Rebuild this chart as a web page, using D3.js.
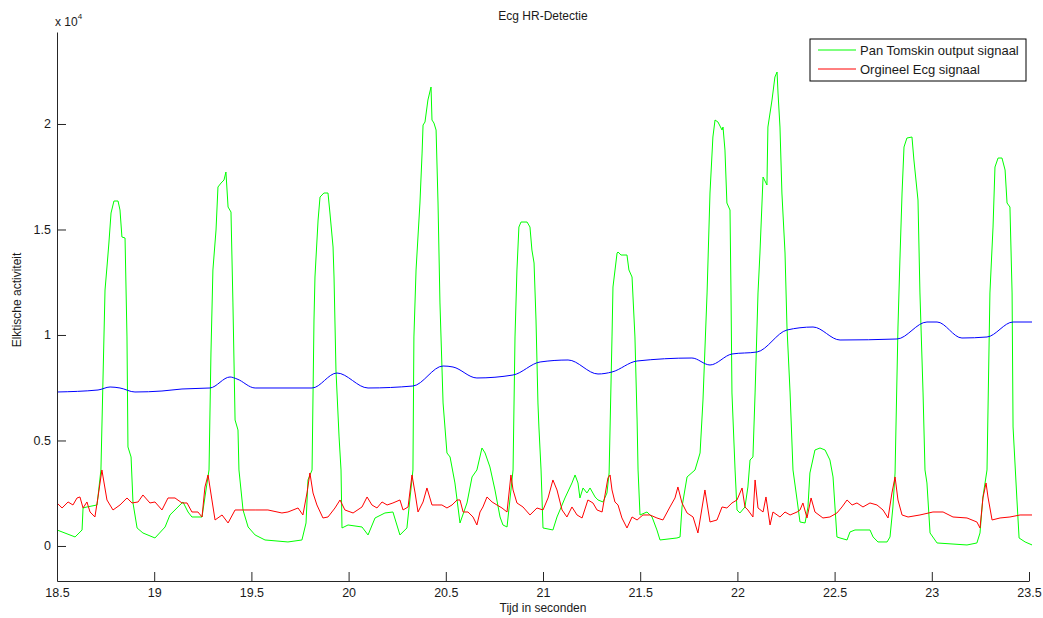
<!DOCTYPE html>
<html>
<head>
<meta charset="utf-8">
<script src="https://cdn.jsdelivr.net/npm/d3@7"></script>
<style>
  html, body { margin: 0; padding: 0; background: #fff; }
  svg { display: block; font-family: "Liberation Sans", Arial, sans-serif; }
</style>
</head>
<body>
<svg id="chart" width="1043" height="618"></svg>
<script>
// ---- data (time in seconds, amplitude in raw units) ----
const xTicks = [18.5, 19, 19.5, 20, 20.5, 21, 21.5, 22, 22.5, 23, 23.5];
const xTickLabels = ["18.5", "19", "19.5", "20", "20.5", "21", "21.5", "22", "22.5", "23", "23.5"];
const yTicks = [0, 5000, 10000, 15000, 20000];
const yTickLabels = ["0", "0.5", "1", "1.5", "2"];

const seriesNames = ["Pan Tomskin output signaal", "Orgineel Ecg signaal"];

const greenT = [18.500,18.593,18.629,18.634,18.654,18.706,18.726,18.747,18.757,18.767,18.778,18.793,18.814,18.824,18.834,18.850,18.860,18.865,18.881,18.891,18.912,18.942,19.004,19.056,19.081,19.148,19.174,19.194,19.246,19.261,19.282,19.292,19.302,19.318,19.328,19.344,19.359,19.369,19.380,19.395,19.405,19.416,19.431,19.436,19.457,19.483,19.519,19.570,19.688,19.760,19.781,19.791,19.812,19.822,19.827,19.843,19.853,19.873,19.894,19.904,19.920,19.925,19.935,19.951,19.961,19.966,19.997,20.069,20.100,20.136,20.187,20.228,20.264,20.300,20.331,20.336,20.347,20.367,20.378,20.383,20.393,20.408,20.424,20.429,20.439,20.450,20.460,20.470,20.486,20.506,20.522,20.547,20.573,20.609,20.635,20.660,20.686,20.702,20.727,20.753,20.779,20.794,20.815,20.846,20.856,20.866,20.876,20.887,20.918,20.933,20.943,20.954,20.964,20.974,20.979,20.990,21.000,21.051,21.072,21.098,21.113,21.149,21.165,21.180,21.190,21.206,21.226,21.242,21.268,21.283,21.309,21.329,21.340,21.355,21.360,21.381,21.386,21.401,21.432,21.442,21.458,21.473,21.484,21.489,21.499,21.535,21.561,21.586,21.602,21.689,21.705,21.715,21.741,21.782,21.808,21.823,21.844,21.859,21.874,21.885,21.900,21.921,21.926,21.936,21.946,21.962,21.967,21.972,21.988,21.998,22.013,22.039,22.054,22.065,22.080,22.091,22.106,22.116,22.132,22.152,22.157,22.178,22.193,22.204,22.209,22.219,22.229,22.245,22.255,22.271,22.286,22.307,22.322,22.348,22.363,22.373,22.399,22.425,22.451,22.476,22.492,22.512,22.528,22.564,22.579,22.605,22.682,22.698,22.723,22.770,22.785,22.800,22.811,22.826,22.836,22.847,22.857,22.872,22.898,22.908,22.929,22.939,22.955,22.965,22.975,22.991,23.027,23.181,23.232,23.248,23.263,23.284,23.299,23.315,23.325,23.341,23.361,23.377,23.387,23.402,23.413,23.418,23.438,23.449,23.480,23.516];
const greenV = [758,427,758,1801,1848,1943,3602,12132,13222,14359,15781,16350,16350,15923,14644,14596,9905,4692,4218,2038,853,616,379,900,1469,2085,1611,1374,1374,2322,3602,9146,13080,14975,17013,17203,17345,17724,16065,15828,11516,5971,5497,3602,1706,900,521,284,190,284,1090,3128,3602,10710,12748,15449,16539,16729,16729,15781,14170,12748,8341,5166,3602,853,995,900,521,1327,1564,1611,521,853,3602,9905,13080,16255,18624,19951,20093,21136,21752,20188,20046,19714,16255,11516,6777,4407,4218,2986,1090,2038,3270,3602,4644,4407,3744,2654,1374,995,900,3602,9905,13080,15117,15354,15354,15117,14027,13411,10710,6777,5639,3602,853,758,1374,1943,2275,2986,3365,2986,2275,2749,2512,2749,2322,2180,2085,2512,3459,9905,12274,13885,13933,13790,13790,13080,12748,9905,5971,3602,1469,1611,1374,758,284,379,427,1848,3270,3602,4407,6919,11990,16729,19383,20188,20093,19714,19856,18766,16255,15923,11990,7251,3602,1706,1564,1848,2796,4076,4218,7251,11990,13885,17487,17108,19856,21136,22226,22463,21468,19856,16729,13885,10378,7251,3602,2180,1137,1090,1848,3459,4549,4644,4549,4076,3270,427,379,284,663,758,758,427,190,190,427,1848,3459,10378,13554,16729,18909,19335,19383,18293,16397,11990,7251,3602,2986,616,142,47,142,616,2322,3602,11990,15117,17961,18387,18387,17819,16255,16065,11990,5639,2180,379,190,47];

const redT = [18.500,18.526,18.557,18.582,18.603,18.618,18.634,18.654,18.670,18.695,18.711,18.731,18.737,18.757,18.788,18.824,18.860,18.886,18.917,18.942,18.978,19.004,19.040,19.071,19.107,19.143,19.169,19.194,19.225,19.246,19.261,19.277,19.297,19.313,19.349,19.380,19.416,19.452,19.519,19.585,19.657,19.688,19.740,19.765,19.786,19.801,19.817,19.837,19.868,19.894,19.930,19.956,19.981,20.023,20.069,20.095,20.120,20.146,20.172,20.198,20.228,20.264,20.280,20.306,20.326,20.342,20.357,20.383,20.403,20.429,20.455,20.480,20.506,20.532,20.558,20.573,20.589,20.614,20.640,20.660,20.676,20.691,20.712,20.738,20.763,20.789,20.815,20.835,20.846,20.866,20.897,20.933,20.969,21.000,21.026,21.051,21.072,21.098,21.123,21.149,21.175,21.201,21.231,21.257,21.278,21.304,21.319,21.334,21.345,21.355,21.370,21.386,21.406,21.432,21.458,21.484,21.514,21.550,21.586,21.617,21.653,21.679,21.694,21.715,21.741,21.772,21.797,21.833,21.859,21.895,21.921,21.946,21.972,21.998,22.024,22.039,22.054,22.080,22.091,22.106,22.132,22.147,22.168,22.183,22.219,22.245,22.271,22.307,22.322,22.337,22.358,22.379,22.399,22.440,22.476,22.512,22.538,22.564,22.590,22.615,22.646,22.682,22.718,22.749,22.775,22.795,22.811,22.826,22.847,22.878,22.939,23.006,23.058,23.109,23.181,23.232,23.248,23.263,23.279,23.289,23.310,23.351,23.402,23.454,23.516];
const redV = [2038,1801,2085,1943,2275,2322,1801,2085,1611,1374,2322,3602,3270,2180,1706,1943,2275,2038,2085,2417,2038,2085,1706,2275,2275,2038,2038,1611,1611,1374,2796,3365,2180,1232,1469,1090,1706,1706,1706,1706,1564,1611,1801,1469,2512,3459,2512,1943,1327,1374,1801,2180,1706,1564,1848,2322,1943,1801,2085,1943,2038,2180,1706,1848,3365,2512,1611,2085,2749,1943,1943,1943,1801,1943,2180,2180,1611,1611,1374,995,1611,1848,2322,2085,1943,1801,1611,3365,2654,2038,1848,1469,1801,1706,2275,3128,2654,1706,1374,1848,1469,1327,2180,2038,1706,1611,2417,3223,3365,2654,2085,1943,1327,853,1374,1232,1469,1469,1327,1232,1848,2275,2796,2038,1564,1374,616,2654,1137,1232,1848,1801,2038,2180,2749,1848,1706,1374,3128,1801,1611,2322,995,1611,1374,1611,1469,1611,1706,2038,1327,2275,1611,1327,1374,1564,1848,2180,1943,2038,1848,2038,1943,1706,1327,2512,3270,2180,1469,1374,1469,1611,1611,1374,1327,1137,853,2275,2986,2322,1232,1327,1374,1469,1469];

const blueT = [18.500,18.711,18.773,18.824,18.901,19.040,19.143,19.287,19.390,19.426,19.519,19.812,19.940,20.100,20.331,20.486,20.537,20.660,20.846,20.985,21.129,21.283,21.355,21.484,21.766,21.859,21.972,22.101,22.255,22.389,22.528,22.821,22.975,23.027,23.155,23.284,23.418,23.516];
const blueV = [7298,7393,7535,7488,7298,7345,7440,7488,8009,7914,7488,7488,8198,7488,7582,8530,8483,7962,8104,8720,8815,8151,8246,8767,8909,8578,9099,9194,10236,10378,9762,9810,10615,10615,9857,9905,10615,10615];

// ---- layout ----
const plotLeft = 57, plotRight = 1029, plotTop = 32, plotBottom = 581;
const svg = d3.select("#chart");
svg.append("rect").attr("width", 1043).attr("height", 618).attr("fill", "#fff");

const x = d3.scaleLinear().domain([18.5, 23.5]).range([plotLeft, plotRight]);
const y = d3.scaleLinear().domain([-1660, 24360]).range([plotBottom, plotTop]);

svg.append("defs").append("clipPath").attr("id", "clip")
  .append("rect").attr("x", plotLeft).attr("y", plotTop)
  .attr("width", plotRight - plotLeft + 3).attr("height", plotBottom - plotTop);

const line = d3.line().x(d => x(d[0])).y(d => y(d[1]));
const zip = (a, b) => a.map((t, i) => [t, b[i]]);

const plot = svg.append("g").attr("clip-path", "url(#clip)");
plot.append("path").datum(zip(greenT, greenV)).attr("d", line)
  .attr("fill", "none").attr("stroke", "#00ff00").attr("stroke-width", 1);
plot.append("path").datum(zip(redT, redV)).attr("d", line)
  .attr("fill", "none").attr("stroke", "#ff0000").attr("stroke-width", 1);
plot.append("path").datum(zip(blueT, blueV)).attr("d", line.curve(d3.curveMonotoneX))
  .attr("fill", "none").attr("stroke", "#0000ff").attr("stroke-width", 1);

// ---- axes ----
const xAxis = d3.axisBottom(x).tickValues(xTicks)
  .tickFormat((d, i) => xTickLabels[i]).tickSizeInner(-9).tickSizeOuter(0).tickPadding(7);
const gx = svg.append("g").attr("transform", `translate(0,${plotBottom})`).call(xAxis);
const yAxis = d3.axisLeft(y).tickValues(yTicks)
  .tickFormat((d, i) => yTickLabels[i]).tickSizeInner(-9).tickSizeOuter(0).tickPadding(6);
const gy = svg.append("g").attr("transform", `translate(${plotLeft},0)`).call(yAxis);

[gx, gy].forEach(g => {
  g.selectAll("path.domain").attr("stroke", "#262626");
  g.selectAll(".tick line").attr("stroke", "#262626");
  g.selectAll(".tick text").attr("fill", "#1a1a1a")
    .style("font-family", "'Liberation Sans', Arial, sans-serif").style("font-size", "12.5px");
});

// exponent label
const expo = svg.append("text").attr("x", 55).attr("y", 26)
  .attr("fill", "#1a1a1a").style("font-size", "12px");
expo.append("tspan").text("x 10");
expo.append("tspan").attr("dy", -7).style("font-size", "8px").text("4");

// title and axis labels
svg.append("text").attr("x", 543).attr("y", 20).attr("text-anchor", "middle")
  .attr("fill", "#1a1a1a").style("font-size", "12px").text("Ecg HR-Detectie");
svg.append("text").attr("x", 543).attr("y", 612).attr("text-anchor", "middle")
  .attr("fill", "#1a1a1a").style("font-size", "12px").text("Tijd in seconden");
svg.append("text").attr("transform", "translate(21,300) rotate(-90)").attr("text-anchor", "middle")
  .attr("fill", "#1a1a1a").style("font-size", "12px").text("Elktische activiteit");

// ---- legend ----
const legendColors = ["#00ff00", "#ff0000"];
const lg = svg.append("g").attr("transform", "translate(810,39)");
lg.append("rect").attr("width", 216).attr("height", 42)
  .attr("fill", "#fff").attr("stroke", "#000").attr("stroke-width", 1);
seriesNames.forEach((name, i) => {
  const yy = 11 + i * 19;
  lg.append("line").attr("x1", 8).attr("x2", 46).attr("y1", yy).attr("y2", yy)
    .attr("stroke", legendColors[i]).attr("stroke-width", 1);
  lg.append("text").attr("x", 50).attr("y", yy + 4.5)
    .attr("fill", "#1a1a1a").style("font-size", "13px").text(name);
});
</script>
</body>
</html>
